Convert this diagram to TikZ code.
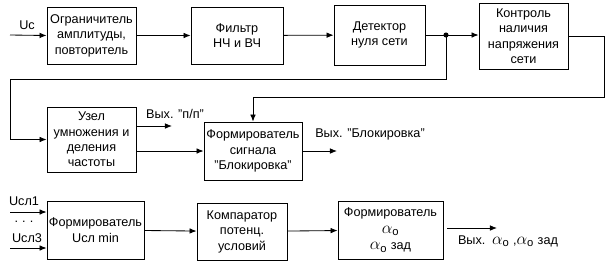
\documentclass[tikz,border=0pt]{standalone}
\usepackage{fontspec}
\setmainfont{Liberation Sans}
\usetikzlibrary{arrows.meta, positioning, calc}

\begin{document}
\begin{tikzpicture}[
  x=0.025cm, y=-0.025cm,
  blk/.style={draw, line width=0.6pt, align=center, font=\fontsize{9}{11}\selectfont, inner sep=1pt},
  arr/.style={-{Latex[length=5pt, width=4pt]}, line width=0.6pt},
  lbl/.style={font=\fontsize{9}{11}\selectfont, inner sep=0pt}
]
\useasboundingbox (0,0) rectangle (608,272);

% row 1
\node[blk, minimum width=2.225cm, minimum height=1.425cm] (b1) at (91.5,35.5) {Ограничитель\\амплитуды,\\повторитель};
\node[blk, minimum width=2.3cm, minimum height=1.425cm] (b2) at (237,35.5) {Фильтр\\НЧ и ВЧ};
\node[blk, minimum width=2.275cm, minimum height=1.5cm] (b3) at (379.5,35) {Детектор\\нуля сети};
\node[blk, minimum width=2.225cm, minimum height=1.65cm] (b4) at (523.5,36) {Контроль\\наличия\\напряжения\\сети};

% row 2
\node[blk, minimum width=2.225cm, minimum height=1.625cm] (b5) at (91.5,139.5) {Узел\\умножения и\\деления\\частоты};
\node[blk, minimum width=2.45cm, minimum height=1.45cm] (b6) at (253,151) {Формирователь\\сигнала\\"Блокировка"};

% row 3
\node[blk, minimum width=2.425cm, minimum height=1.45cm] (b7) at (95.5,230) {Формирователь\\Uсл min};
\node[blk, minimum width=2.25cm, minimum height=1.425cm] (b8) at (242,231.5) {Компаратор\\потенц.\\условий};
\node[blk, minimum width=2.625cm, minimum height=1.45cm] (b9) at (390.5,230) {Формирователь\\[1pt]{\large$\alpha_{\mathrm{o}}$}\\[1pt]{\large$\alpha_{\mathrm{o}}$} зад};

% free ends
\coordinate (uc) at (10,35);
\coordinate (j) at (446,35);
\coordinate (c1) at (10,79);
\coordinate (c2) at (604,97);
\coordinate (o1) at (172,126);
\coordinate (o2) at (337,151);
\coordinate (u1) at (10,212);
\coordinate (u3) at (10,248);
\coordinate (o3) at (497,228);

% labels
\node[lbl] (tuc) at (27,25) {Uc};
\node[lbl] (to1) at (175,114) {Вых. "п/п"};
\node[lbl] (to2) at (370,134) {Вых. "Блокировка"};
\node[lbl] (tu1) at (24,201) {Uсл1};
\node[lbl] (tdt) at (24,222) {.\,\,.\,\,.};
\node[lbl] (tu3) at (27,238) {Uсл3};
\node[lbl] (to3) at (508,241) {Вых. \,{\large$\alpha_{\mathrm{o}}$} ,{\large$\alpha_{\mathrm{o}}$} зад};

\draw[arr] (uc) -- (b1.west);
\draw[arr] (b1) -- (b2);
\draw[arr] (b2) -- (b3);
\draw[arr] (b3.east) -- (b4.west |- b3.east);
\fill (j) circle (1.8pt);
\draw[arr] (j) |- (c1) |- (b5.west);
\draw[arr] (b4.east) -| (c2) -| (b6.north);
\draw[arr] (b5.east |- o1) -- (o1);
\draw[arr] (b5.east |- b6.west) -- (b6.west);
\draw[arr] (b6.east) -- (o2);
\draw[arr] (u1) -- (b7.west |- u1);
\draw[arr] (u3) -- (b7.west |- u3);
\draw[arr] (b7) -- (b8);
\draw[arr] (b8) -- (b9);
\draw[arr] ($(b9.east |- o3)+(4,0)$) -- (o3);
\end{tikzpicture}
\end{document}
